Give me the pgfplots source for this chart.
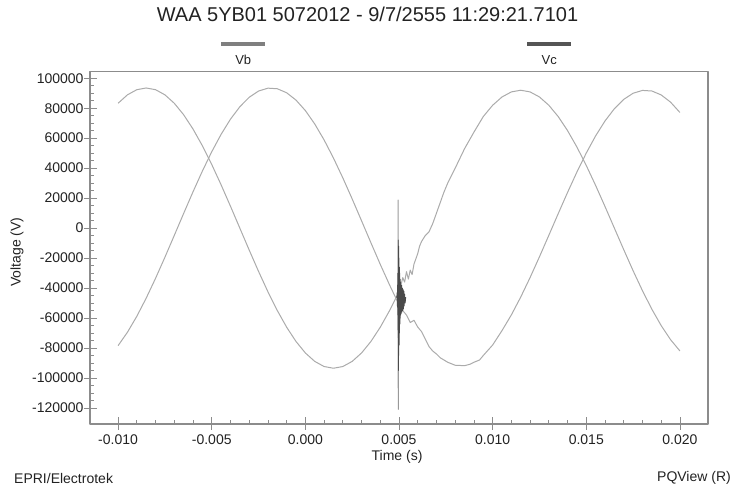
\documentclass[border=0pt]{standalone}
\usepackage{fontspec}
\setmainfont{Liberation Sans}
\usepackage{pgfplots}
\pgfplotsset{compat=1.18}

\definecolor{framegray}{HTML}{8C8C8C}
\definecolor{curvegray}{HTML}{ABABAB}
\definecolor{textgray}{HTML}{222222}
\definecolor{vbgray}{HTML}{7F7F7F}
\definecolor{vcgray}{HTML}{555555}
\definecolor{spikegray}{HTML}{999999}
\definecolor{burstgray}{HTML}{4A4A4A}

\begin{document}
\begin{tikzpicture}[x=1bp,y=1bp]
\useasboundingbox (0,0) rectangle (735,487);
\begin{axis}[
  at={(90bp,63bp)}, anchor=south west,
  scale only axis, width=618bp, height=352.5bp,
  xmin=-0.0115, xmax=0.0215, ymin=-130700, ymax=104500,
  axis line style={draw=framegray, line width=1.2bp},
  tick style={draw=framegray, line width=0.8bp},
  tick align=inside, tick pos=left,
  major tick length=7bp, minor tick length=4bp,
  xtick={-0.01,-0.005,0,0.005,0.01,0.015,0.02},
  xticklabels={-0.010,-0.005,0.000,0.005,0.010,0.015,0.020},
  minor x tick num=4,
  ytick={-120000,-100000,-80000,-60000,-40000,-20000,0,20000,40000,60000,80000,100000},
  yticklabels={-120000,-100000,-80000,-60000,-40000,-20000,0,20000,40000,60000,80000,100000},
  minor y tick num=3,
  extra x ticks={-0.01,-0.005,0,0.005,0.01,0.015,0.02},
  extra x tick labels={},
  extra y ticks={-120000,-100000,-80000,-60000,-40000,-20000,0,20000,40000,60000,80000,100000},
  extra y tick labels={},
  extra tick style={tick align=outside, major tick length=6bp},
  scaled ticks=false,
  ticklabel style={font=\fontsize{14bp}{16bp}\selectfont, text=textgray},
  xticklabel style={yshift=-7bp},
  yticklabel style={xshift=-3bp},
  xlabel={Time (s)}, ylabel={Voltage (V)},
  label style={font=\fontsize{14bp}{16bp}\selectfont, text=textgray},
  xlabel style={at={(0.4968,-0.094)}, anchor=center},
  ylabel style={at={(-0.1181,0.488)}, anchor=center},
  title={WAA 5YB01 5072012 - 9/7/2555 11:29:21.7101},
  title style={at={(0.449,1.146)}, anchor=center, font=\fontsize{20bp}{22bp}\selectfont, text=textgray},
  legend columns=2,
  legend style={draw=none, fill=none, inner sep=0pt, column sep=0pt,
    nodes={inner sep=0pt}, at={(0.2476,1.031)}, anchor=west},
  line join=round,
]
% Vb
\addplot[curvegray, line width=1bp, forget plot] coordinates {
(-0.0100,83310) (-0.0095,88930) (-0.0090,92350) (-0.0085,93500) (-0.0080,92350)
(-0.0075,88930) (-0.0070,83310) (-0.0065,75640) (-0.0060,66110) (-0.0055,54960)
(-0.0050,42450) (-0.0045,28890) (-0.0040,14620) (-0.0035,0) (-0.0030,-14620)
(-0.0025,-28890) (-0.0020,-42450) (-0.0015,-54960) (-0.0010,-66110) (-0.0005,-75640)
(0.0000,-83310) (0.0005,-88930) (0.0010,-92350) (0.0015,-93500) (0.0020,-92350)
(0.0025,-88930) (0.0030,-83310) (0.0035,-75640) (0.0040,-66110) (0.0045,-54960)
(0.0049,-45000) (0.0050,-44000) (0.0052,-33000) (0.0053,-36000) (0.0054,-29000)
(0.0055,-34000) (0.0056,-28000) (0.0057,-31000) (0.0058,-24000) (0.0060,-17000)
(0.0061,-12000) (0.0062,-9000) (0.0064,-5000) (0.0066,-2500) (0.0068,3000)
(0.0070,10000) (0.0072,17000) (0.0074,24000) (0.0076,30000) (0.0078,35000)
(0.0080,40000) (0.0085,53000) (0.0090,64000) (0.0095,74430) (0.0100,81970)
(0.0105,87500) (0.0110,90870) (0.0115,92000) (0.0120,90870) (0.0125,87500)
(0.0130,81970) (0.0135,74430) (0.0140,65050) (0.0145,54080) (0.0150,41770)
(0.0155,28430) (0.0160,14390) (0.0165,0) (0.0170,-14390) (0.0175,-28430)
(0.0180,-41770) (0.0185,-54080) (0.0190,-65050) (0.0195,-74430) (0.0200,-81970)
};
% Vc
\addplot[curvegray, line width=1bp, forget plot] coordinates {
(-0.0100,-78420) (-0.0095,-69480) (-0.0090,-58840) (-0.0085,-46750) (-0.0080,-33510)
(-0.0075,-19440) (-0.0070,-4890) (-0.0065,9770) (-0.0060,24200) (-0.0055,38030)
(-0.0050,50920) (-0.0045,62560) (-0.0040,72660) (-0.0035,80970) (-0.0030,87290)
(-0.0025,91450) (-0.0020,93370) (-0.0015,92990) (-0.0010,90310) (-0.0005,85410)
(0.0000,78420) (0.0005,69480) (0.0010,58840) (0.0015,46750) (0.0020,33510)
(0.0025,19440) (0.0030,4890) (0.0035,-9770) (0.0040,-24200) (0.0045,-38030)
(0.0049,-48500) (0.0050,-50500) (0.0052,-55000) (0.0054,-58000) (0.0056,-63000)
(0.0058,-61500) (0.0060,-66000) (0.0062,-69000) (0.0064,-74000) (0.0066,-79000)
(0.0068,-82000) (0.0070,-84000) (0.0072,-86500) (0.0074,-88000) (0.0076,-89500)
(0.0078,-90500) (0.0080,-91500) (0.0085,-91800) (0.0088,-90800) (0.0090,-89500)
(0.0093,-88000) (0.0095,-85000) (0.0100,-78000) (0.0105,-68370) (0.0110,-57900)
(0.0115,-46000) (0.0120,-32970) (0.0125,-19130) (0.0130,-4810) (0.0135,9610)
(0.0140,23810) (0.0145,37420) (0.0150,50100) (0.0155,61560) (0.0160,71490)
(0.0165,79670) (0.0170,85890) (0.0175,89990) (0.0180,91870) (0.0185,91490)
(0.0190,88860) (0.0195,84040) (0.0200,77160)
};
% fault spike
\addplot[spikegray, line width=1bp, forget plot] coordinates {
(0.00495,-46000) (0.004955,18700) (0.00496,-121000) (0.004965,-46000)
};
% oscillatory burst
\addplot[burstgray, line width=0.8bp, forget plot] coordinates {
(0.00488,-46500) (0.00490,-43000) (0.00491,-52000) (0.00492,-38000) (0.00493,-58000)
(0.00494,-30000) (0.00495,-68000) (0.00496,-8000) (0.00497,-95000) (0.00498,-12000)
(0.00499,-85000) (0.00500,-20000) (0.00501,-78000) (0.00502,-26000) (0.00503,-70000)
(0.00504,-30000) (0.00505,-64000) (0.00506,-34000) (0.00507,-60000) (0.00508,-36000)
(0.00509,-58000) (0.00510,-38000) (0.00512,-57000) (0.00514,-38000) (0.00516,-56000)
(0.00518,-40000) (0.00520,-55000) (0.00522,-41000) (0.00524,-54000) (0.00526,-42000)
(0.00528,-52000) (0.00530,-44000) (0.00533,-50000) (0.00536,-46000)
};
\addlegendimage{legend image code/.code={
  \path[draw=none, fill=none] (0bp,-0.5bp) rectangle (305bp,0.5bp);
  \draw[overlay, vbgray, line width=4bp] (-22bp,16.5bp) -- (22bp,16.5bp);
  \node[overlay, inner sep=0pt, text=textgray, font=\fontsize{13bp}{15bp}\selectfont] at (0bp,0bp) {Vb};}}
\addlegendentry{}
\addlegendimage{legend image code/.code={
  \path[draw=none, fill=none] (0bp,-0.5bp) rectangle (1bp,0.5bp);
  \draw[overlay, vcgray, line width=4bp] (-22bp,16.5bp) -- (22bp,16.5bp);
  \node[overlay, inner sep=0pt, text=textgray, font=\fontsize{13bp}{15bp}\selectfont] at (0bp,0bp) {Vc};}}
\addlegendentry{}
\end{axis}
\node[anchor=west, inner sep=0pt, text=textgray, font=\fontsize{14bp}{16bp}\selectfont] at (14,9) {EPRI/Electrotek};
\node[anchor=east, inner sep=0pt, text=textgray, font=\fontsize{14bp}{16bp}\selectfont] at (731,9) {PQView (R)};
\end{tikzpicture}
\end{document}
